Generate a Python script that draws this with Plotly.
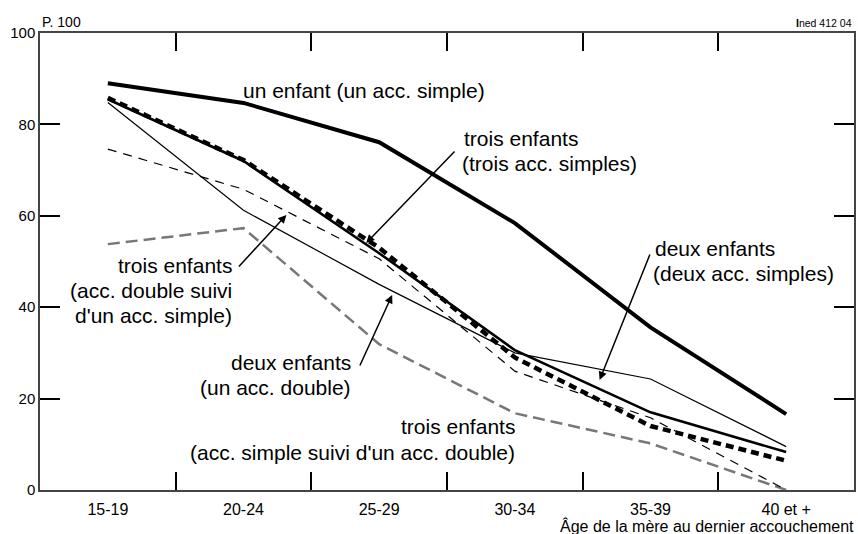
import plotly.graph_objects as go

ages = ["15-19", "20-24", "25-29", "30-34", "35-39", "40 et +"]
un_enfant = [89.0, 84.7, 76.1, 58.4, 35.6, 16.6]
trois_simples = [85.8, 72.2, 53.0, 29.0, 14.0, 6.4]
deux_simples = [85.5, 72.0, 51.8, 30.6, 17.0, 8.3]
deux_double = [84.8, 61.2, 45.0, 30.0, 24.3, 9.5]
trois_double_simple = [74.6, 65.8, 50.6, 26.0, 15.8, 0.0]
trois_simple_double = [53.8, 57.3, 31.9, 16.8, 10.2, 0.0]
y_ticks = [0, 20, 40, 60, 80, 100]

W, H = 858, 534
L, R, T, B = 40, 2, 33, 44
PW, PH = W - L - R, H - T - B
FONT = "Liberation Sans, Arial, sans-serif"


def px(xp):
    return (xp - L) / PW


def py(yp):
    return (H - B - yp) / PH


fig = go.Figure()
series = [
    (trois_simple_double, "#777777", 2.5, "12px,6px"),
    (trois_double_simple, "black", 1.2, "9px,7px"),
    (deux_double, "black", 1.2, "solid"),
    (deux_simples, "black", 2.6, "solid"),
    (trois_simples, "black", 4.5, "8px,5px"),
    (un_enfant, "black", 4.0, "solid"),
]
for vals, col, w, dash in series:
    fig.add_trace(go.Scatter(x=ages, y=vals, mode="lines",
                             line=dict(color=col, width=w, dash=dash),
                             showlegend=False, hoverinfo="skip"))

ann = []


def label(text, xp, yp, xanchor):
    ann.append(dict(text=text, x=px(xp), y=py(yp), xref="paper", yref="paper",
                    xanchor=xanchor, yanchor="middle", align=xanchor,
                    showarrow=False, font=dict(size=21, color="black", family=FONT)))


label("un enfant (un acc. simple)", 241, 90, "left")
label("trois enfants", 463, 138, "left")
label("(trois acc. simples)", 461, 163, "left")
label("deux enfants", 655, 248, "left")
label("(deux acc. simples)", 653, 273, "left")
label("trois enfants", 234, 265, "right")
label("(acc. double suivi", 234, 290, "right")
label("d'un acc. simple)", 234, 315, "right")
label("deux enfants", 354, 362, "right")
label("(un acc. double)", 354, 387, "right")
label("trois enfants", 518, 426, "right")
label("(acc. simple suivi d'un acc. double)", 518, 452, "right")


def arrow(tx, ty, hx, hy):
    ann.append(dict(text="", x=px(hx), y=py(hy), ax=px(tx), ay=py(ty),
                    xref="x domain", yref="y domain", axref="x domain", ayref="y domain",
                    showarrow=True, arrowhead=2, arrowsize=1.1, arrowwidth=1.5,
                    arrowcolor="black", standoff=0, startstandoff=0))


arrow(457, 150, 367, 243)
arrow(652, 253, 601, 380)
arrow(238, 268, 287, 215)
arrow(360, 367, 393, 295)

ann.append(dict(text="P. 100", x=0, y=py(22), xref="paper", yref="paper",
                xanchor="left", yanchor="middle", showarrow=False,
                font=dict(size=14, color="black", family=FONT)))
ann.append(dict(text="<b>I</b>ned 412 04", x=1, y=py(23), xref="paper", yref="paper",
                xanchor="right", yanchor="middle", showarrow=False,
                font=dict(size=10.5, color="black", family=FONT)))
ann.append(dict(text="Âge de la mère au dernier accouchement", x=px(858), y=py(526),
                xref="paper", yref="paper", xanchor="right", yanchor="middle",
                showarrow=False, font=dict(size=16, color="black", family=FONT)))

fig.update_layout(
    width=W, height=H,
    margin=dict(l=L, r=R, t=T, b=B, pad=0),
    plot_bgcolor="white", paper_bgcolor="white",
    font=dict(family=FONT, color="black", size=15),
    annotations=ann,
)
fig.update_xaxes(type="category", range=[-0.5, 5.5], tickson="boundaries",
                 ticks="inside", ticklen=18, tickwidth=1.5, tickcolor="black",
                 showline=True, linecolor="#444", linewidth=1.5, mirror="ticks",
                 showgrid=False, zeroline=False, tickfont=dict(size=16),
                 ticklabelstandoff=4)
fig.update_yaxes(range=[0, 100], tickvals=y_ticks, ticks="inside", ticklen=20,
                 tickwidth=1.5, tickcolor="black", showline=True, linecolor="#444",
                 linewidth=1.5, mirror="ticks", showgrid=False, zeroline=False,
                 tickfont=dict(size=15), ticklabelstandoff=0)

fig.write_html("out.html", config={"displayModeBar": False},
               post_script="document.body.style.margin='0';document.body.style.overflow='hidden';")
